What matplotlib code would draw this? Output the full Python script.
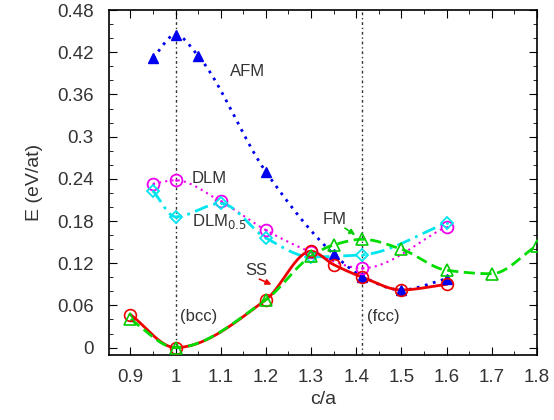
import numpy as np
import matplotlib
matplotlib.use("Agg")
import matplotlib.pyplot as plt
from matplotlib.ticker import MultipleLocator

plt.rcParams['font.family'] = ['Liberation Sans', 'DejaVu Sans']

# data
x_afm = [0.95, 1.0, 1.05, 1.2, 1.35, 1.414, 1.5, 1.6]
e_afm = [0.412, 0.445, 0.415, 0.250, 0.133, 0.101, 0.082, 0.098]

x_ss = [0.9, 1.0, 1.2, 1.3, 1.35, 1.414, 1.5, 1.6]
e_ss = [0.047, 0.0, 0.068, 0.137, 0.118, 0.100, 0.082, 0.090]

x_fm = [0.9, 1.0, 1.2, 1.3, 1.35, 1.414, 1.5, 1.6, 1.7, 1.8]
e_fm = [0.040, 0.0, 0.068, 0.130, 0.146, 0.154, 0.140, 0.110, 0.105, 0.145]

x_dlm = [0.95, 1.0, 1.1, 1.2, 1.3, 1.414, 1.6]
e_dlm = [0.233, 0.238, 0.208, 0.167, 0.136, 0.113, 0.172]

x_dlm05 = [0.95, 1.0, 1.1, 1.2, 1.3, 1.414, 1.6]
e_dlm05 = [0.223, 0.186, 0.205, 0.156, 0.129, 0.132, 0.177]


def smooth(x, y, n=300):
    # monotone piecewise cubic (pchip) through the points
    x = np.asarray(x, float)
    y = np.asarray(y, float)
    h = np.diff(x)
    d = np.diff(y) / h
    m = np.zeros_like(y)
    for i in range(1, len(x) - 1):
        if d[i - 1] * d[i] > 0:
            w1 = 2 * h[i] + h[i - 1]
            w2 = h[i] + 2 * h[i - 1]
            m[i] = (w1 + w2) / (w1 / d[i - 1] + w2 / d[i])
    m[0] = d[0]
    m[-1] = d[-1]
    xs = np.linspace(x[0], x[-1], n)
    k = np.clip(np.searchsorted(x, xs) - 1, 0, len(x) - 2)
    t = (xs - x[k]) / h[k]
    h00 = 2 * t**3 - 3 * t**2 + 1
    h10 = t**3 - 2 * t**2 + t
    h01 = -2 * t**3 + 3 * t**2
    h11 = t**3 - t**2
    ys = h00 * y[k] + h10 * h[k] * m[k] + h01 * y[k + 1] + h11 * h[k] * m[k + 1]
    return xs, ys


fig, ax = plt.subplots(figsize=(5.54, 4.2), dpi=100)
fig.subplots_adjust(left=0.197, right=0.969, top=0.976, bottom=0.155)

ax.axvline(1.0, color='#333333', lw=1, ls=(0, (2, 2, 1, 2)), zorder=1)
ax.axvline(1.414, color='#333333', lw=1, ls=(0, (2, 2, 1, 2)), zorder=1)

# AFM
xs, ys = smooth(x_afm, e_afm)
ax.plot(xs, ys, color='#0000ee', lw=2, ls=(0, (1, 2)), zorder=3)
ax.plot(x_afm, e_afm, ls='none', marker='^', ms=7, color='#0000ee', zorder=4)

# DLM
xs, ys = smooth(x_dlm, e_dlm)
ax.plot(xs, ys, color='#ee00ee', lw=1.5, ls=(0, (1, 2)), zorder=2)
ax.plot(x_dlm, e_dlm, ls='none', marker='o', ms=8.5, mfc='none', mec='#ee00ee', mew=1.3, zorder=4)
ax.plot(x_dlm, e_dlm, ls='none', marker='.', ms=2, color='#ee00ee', zorder=4)

# DLM0.5
xs, ys = smooth(x_dlm05, e_dlm05)
ax.plot(xs, ys, color='#00e5ee', lw=2, ls=(0, (5, 2, 1, 2)), zorder=2)
ax.plot(x_dlm05, e_dlm05, ls='none', marker='D', ms=6.5, mfc='none', mec='#00e5ee', mew=1.3, zorder=4)
ax.plot(x_dlm05, e_dlm05, ls='none', marker='.', ms=2, color='#00e5ee', zorder=4)

# SS
xs, ys = smooth(x_ss, e_ss)
ax.plot(xs, ys, color='#ee0000', lw=2, zorder=3)
ax.plot(x_ss, e_ss, ls='none', marker='o', ms=8.5, mfc='none', mec='#ee0000', mew=1.2, zorder=4)

# FM
xs, ys = smooth(x_fm, e_fm)
ax.plot(xs, ys, color='#00dd00', lw=2, ls=(0, (4, 2)), zorder=3)
ax.plot(x_fm, e_fm, ls='none', marker='^', ms=8, mfc='none', mec='#00cc00', mew=1.2, zorder=4)

tc = '#333333'
ax.text(1.12, 0.392, 'AFM', fontsize=12, color=tc, va='center')
ax.text(1.036, 0.241, 'DLM', fontsize=12, color=tc, va='center')
ax.text(1.036, 0.179, 'DLM$_{0.5}$', fontsize=12, color=tc, va='center')
ax.text(1.155, 0.11, 'SS', fontsize=12, color=tc, va='center')
ax.text(1.325, 0.182, 'FM', fontsize=12, color=tc, va='center')
ax.text(1.011, 0.044, '(bcc)', fontsize=12, color=tc, va='center')
ax.text(1.425, 0.044, '(fcc)', fontsize=12, color=tc, va='center')

ax.annotate('', xy=(1.218, 0.088), xytext=(1.18, 0.099),
            arrowprops=dict(arrowstyle='-|>', color='#ee0000', lw=1.2, mutation_scale=8))
ax.annotate('', xy=(1.403, 0.158), xytext=(1.37, 0.172),
            arrowprops=dict(arrowstyle='-|>', color='#00cc00', lw=1.2, ls='--', mutation_scale=8))

ax.set_xlim(0.853, 1.8)
ax.set_ylim(-0.0104, 0.48)
ax.xaxis.set_minor_locator(MultipleLocator(0.05))
ax.yaxis.set_minor_locator(MultipleLocator(0.02))
ax.set_xticks([0.9, 1.0, 1.1, 1.2, 1.3, 1.4, 1.5, 1.6, 1.7, 1.8])
ax.set_xticklabels(['0.9', '1', '1.1', '1.2', '1.3', '1.4', '1.5', '1.6', '1.7', '1.8'])
ax.set_yticks([0, 0.06, 0.12, 0.18, 0.24, 0.3, 0.36, 0.42, 0.48])
ax.set_yticklabels(['0', '0.06', '0.12', '0.18', '0.24', '0.3', '0.36', '0.42', '0.48'])
ax.tick_params(which='both', direction='in', top=True, right=True, labelsize=13.5,
               labelcolor=tc)
ax.tick_params(axis='x', pad=10)
ax.tick_params(axis='y', pad=11)
ax.tick_params(which='major', length=6)
ax.tick_params(which='minor', length=3)
ax.set_xlabel('c/a', fontsize=14, color=tc, labelpad=4)
ax.set_ylabel('E (eV/at)', fontsize=14, color=tc, labelpad=10)
for s in ax.spines.values():
    s.set_linewidth(1.2)

fig.savefig('out.png', dpi=100)
